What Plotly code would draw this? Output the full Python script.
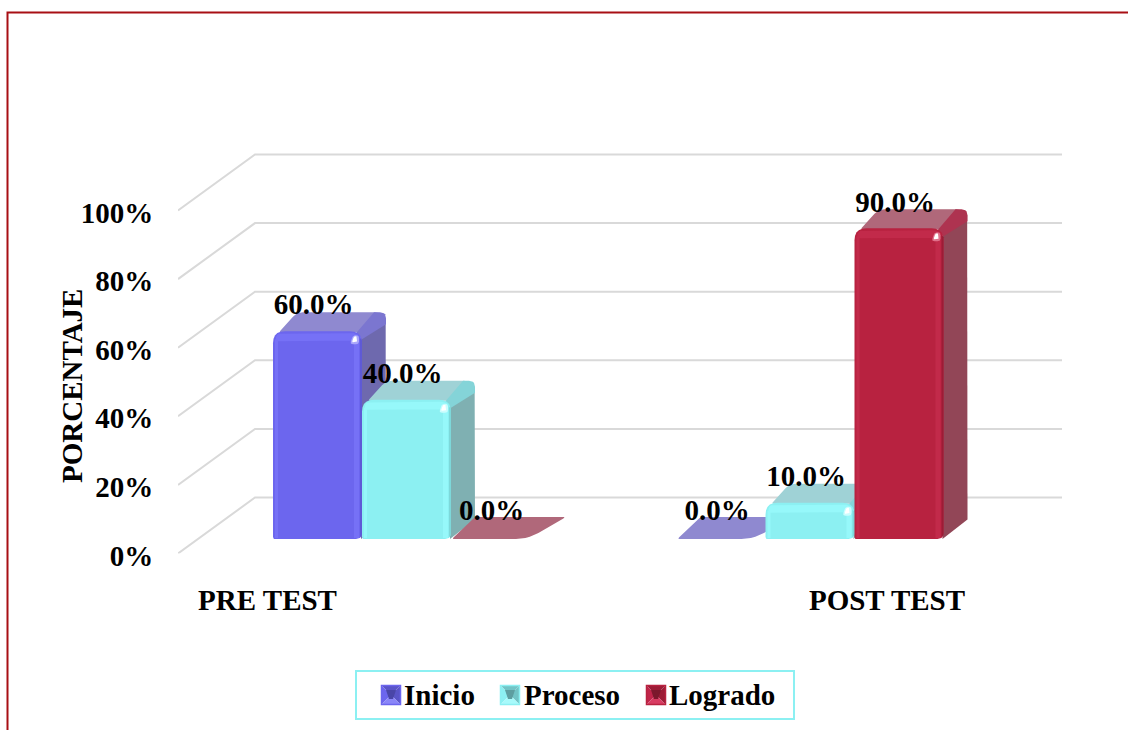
import plotly.graph_objects as go

categories = ["PRE TEST", "POST TEST"]
series_names = ["Inicio", "Proceso", "Logrado"]
inicio = [60.0, 0.0]
proceso = [40.0, 10.0]
logrado = [0.0, 90.0]
y_ticks = [0, 20, 40, 60, 80, 100]

W, H = 1128, 730
FONT = "Liberation Serif"
XU, YU = 403.5, 3.43          # px per category, px per percent
PL, PR, PB, PT = 178, 1062, 553.5, 145
BX, BY = 77, 56               # floor depth (px)
DX, DY = 24, 19               # bar depth (px)
BAR_W = 89
SHIFT = 26.75                 # px: bar cluster pushed back from the front plane
BASE = 14.5                   # px: bar foot above the front floor line
CAP = 2                       # px: extra height of the bevelled bar cap

styles = {
    "Inicio":  dict(front="#6C66EE", top="#8F89D0", side="#6E69AE", edge="#7B76D0",
                    light="#7671F6", dark="#5F5AD6", glow="#A9A6FA",
                    sw=["#5A55C8", "#6C66EE", "#5A55C8", "#8A86F8", "#4A46A8"]),
    "Proceso": dict(front="#8CF0F2", top="#9FD2D6", side="#7FB0B2", edge="#84D4D8",
                    light="#96F8FA", dark="#7DD8DA", glow="#CCFDFE",
                    sw=["#72C4C6", "#8CF0F2", "#72C4C6", "#A8FAFB", "#5E9EA0"]),
    "Logrado": dict(front="#B82240", top="#B0687A", side="#924657", edge="#AE3350",
                    light="#C22A4A", dark="#9C1C36", glow="#E0708A",
                    sw=["#9C1C36", "#C0254A", "#9C1C36", "#D83C62", "#7C182C"]),
}
legend_swatch_x = [381, 500, 646]
legend_text_x = [404, 524, 669]


def rounded(pts, radii, n=5):
    """Round a polygon's corners; points are in px-scaled units."""
    out = []
    m = len(pts)
    for i, (p, r) in enumerate(zip(pts, radii)):
        a, b = pts[i - 1], pts[(i + 1) % m]
        da = ((a[0] - p[0]) ** 2 + (a[1] - p[1]) ** 2) ** 0.5
        db = ((b[0] - p[0]) ** 2 + (b[1] - p[1]) ** 2) ** 0.5
        ra, rb = min(r, da / 2), min(r, db / 2)
        s = (p[0] + (a[0] - p[0]) * ra / da, p[1] + (a[1] - p[1]) * ra / da)
        e = (p[0] + (b[0] - p[0]) * rb / db, p[1] + (b[1] - p[1]) * rb / db)
        for k in range(n + 1):
            t = k / n
            out.append(((1 - t) ** 2 * s[0] + 2 * t * (1 - t) * p[0] + t * t * e[0],
                        (1 - t) ** 2 * s[1] + 2 * t * (1 - t) * p[1] + t * t * e[1]))
    return out


class Layer:
    def __init__(self):
        self.x, self.y = [], []

    def add(self, pts):
        self.x += [p[0] / XU for p in pts] + [pts[0][0] / XU, None]
        self.y += [p[1] / YU for p in pts] + [pts[0][1] / YU, None]


def poly_trace(layer, color):
    return go.Scatter(x=layer.x, y=layer.y, mode="lines", fill="toself", fillcolor=color,
                      line=dict(width=0, color=color), hoverinfo="skip", showlegend=False)


fig = go.Figure()

# Back wall and side wall gridlines
gx, gy = [], []
x_left, x_right = -0.5, 1.5 + BX / XU
for t in y_ticks:
    gx += [x_left, x_left + BX / XU, x_right, None]
    gy += [t, t + BY / YU, t + BY / YU, None]
fig.add_trace(go.Scatter(x=gx, y=gy, mode="lines", line=dict(color="#D9D9D9", width=2),
                         hoverinfo="skip", showlegend=False, cliponaxis=False))

label_x, label_y, label_text = [], [], []
for s, (name, values) in enumerate(zip(series_names, [inicio, proceso, logrado])):
    st = styles[name]
    layers = {k: Layer() for k in ["side", "top", "edge", "front", "dark", "light", "glow", "white"]}
    for c, v in enumerate(values):
        L = c * XU + SHIFT + (s - 1.5) * BAR_W
        R = L + BAR_W
        B = BASE
        T = BASE + v * YU
        label_x.append((L + R) / 2 / XU - 4 / XU)
        label_y.append((T + 26) / YU)
        label_text.append(f"{v:.1f}%")
        if v == 0:
            layers["top"].add(rounded([(L + 1, T), (R - 12, T), (R + DX + 2, T + 22), (L + DX, T + 22)],
                                      [2, 12, 3, 2]))
            continue
        T += CAP
        layers["side"].add(rounded([(R - 1, B), (R + DX, B + DY), (R + DX, T + DY), (R - 1, T)],
                                   [0, 1, 11, 0]))
        layers["top"].add(rounded([(L + 6, T - 1), (L + DX, T + DY), (R + DX, T + DY), (R, T - 1)],
                                  [2, 6, 11, 2]))
        layers["edge"].add(rounded([(R - 6, T - 2), (R + DX - 12, T + DY), (R + DX, T + DY), (R + DX, T + DY - 12), (R, T - 8)],
                                   [0, 0, 11, 0, 0]))
        layers["front"].add(rounded([(L, B), (R, B), (R, T), (L, T)], [2, 6, 12, 12]))
        layers["dark"].add([(R - 2, B + 2), (R, B + 4), (R, T - 9), (R - 2, T - 7)])
        layers["light"].add([(R - 8, B + 1), (R - 3, B + 1), (R - 3, T - 5), (R - 8, T - 8)])
        layers["light"].add([(L + 2, B + 1), (L + 5, B + 1), (L + 5, T - 8), (L + 2, T - 8)])
        layers["light"].add(rounded([(L + 3, T - 10), (R - 3, T - 10), (R - 3, T - 2), (L + 3, T - 2)], [1, 1, 8, 8]))
        layers["glow"].add(rounded([(R - 12, T - 13), (R - 3, T - 13), (R - 3, T - 4), (R - 9, T - 4)], [3, 3, 3, 3]))
        layers["white"].add(rounded([(R - 10, T - 11), (R - 5, T - 11), (R - 5, T - 5), (R - 8, T - 5)], [1, 1, 2, 2]))
    for key in ["side", "top", "edge", "front", "dark", "light", "glow"]:
        fig.add_trace(poly_trace(layers[key], st[key]))
    fig.add_trace(poly_trace(layers["white"], "#FFFFFF"))

# Data labels
fig.add_trace(go.Scatter(x=label_x, y=label_y, text=label_text, mode="text", cliponaxis=False,
                         textposition="middle center", hoverinfo="skip", showlegend=False,
                         textfont=dict(family=FONT, size=29, color="#000000", weight="bold")))


def px_x(v):
    return v / W


def px_y(v):
    return 1 - v / H


def tri(pts, color):
    path = "M " + " L ".join(f"{px_x(a):.5f} {px_y(b):.5f}" for a, b in pts) + " Z"
    return dict(type="path", path=path, xref="paper", yref="paper", fillcolor=color,
                line=dict(width=0), layer="above")


shapes = [
    dict(type="rect", xref="paper", yref="paper", x0=7.5 / W, x1=1.02, y0=-0.02, y1=1 - 12.5 / H,
         line=dict(color="#A80F14", width=2), layer="below"),
    dict(type="rect", xref="paper", yref="paper", x0=px_x(356), x1=px_x(794), y0=px_y(719), y1=px_y(671),
         line=dict(color="#8CF0F2", width=2), fillcolor="#FFFFFF", layer="above"),
]
annotations = [
    dict(text="PORCENTAJE", xref="paper", yref="paper", x=72 / W, y=1 - 386 / H,
         textangle=-90, showarrow=False, xanchor="center", yanchor="middle",
         font=dict(family=FONT, size=29, color="#000000", weight="bold")),
]
SW0, SW = 685, 20
for name, sx, tx in zip(series_names, legend_swatch_x, legend_text_x):
    c = styles[name]["sw"]
    mx, my = sx + SW / 2, SW0 + SW / 2
    a, b = sx + SW, SW0 + SW
    shapes.append(tri([(sx, SW0), (a, SW0), (mx, my)], c[0]))
    shapes.append(tri([(sx, SW0), (sx, b), (mx, my)], c[1]))
    shapes.append(tri([(a, SW0), (a, b), (mx, my)], c[2]))
    shapes.append(tri([(sx, b), (a, b), (mx, my)], c[3]))
    shapes.append(tri([(mx - 5, my - 5), (mx + 5, my - 5), (mx + 2, my + 4), (mx - 2, my + 4)], c[4]))
    shapes.append(dict(type="rect", xref="paper", yref="paper", x0=px_x(sx + 0.5), x1=px_x(a - 0.5),
                       y0=px_y(b - 0.5), y1=px_y(SW0 + 0.5),
                       line=dict(color=styles[name]["front"], width=1.5), layer="above"))
    annotations.append(dict(text=name, xref="paper", yref="paper", x=px_x(tx), y=px_y(695),
                            showarrow=False, xanchor="left", yanchor="middle", xshift=-2,
                            font=dict(family=FONT, size=29, color="#000000", weight="bold")))

fig.update_layout(
    width=W, height=H, autosize=False,
    margin=dict(l=0, r=0, t=0, b=0),
    showlegend=False,
    paper_bgcolor="#FFFFFF", plot_bgcolor="rgba(0,0,0,0)",
    font=dict(family=FONT, size=29, color="#000000", weight="bold"),
    xaxis=dict(domain=[PL / W, PR / W], range=[x_left, x_right], showgrid=False, zeroline=False,
               showline=False, automargin=False, tickmode="array",
               tickvals=[(267.5 - PL) / XU - 0.5, (887 - PL) / XU - 0.5], ticktext=categories,
               ticks="outside", ticklen=21, tickcolor="rgba(0,0,0,0)",
               tickfont=dict(family=FONT, size=29, color="#000000", weight="bold")),
    yaxis=dict(domain=[1 - PB / H, 1 - PT / H], range=[0, (PB - PT) / YU], showgrid=False, zeroline=False,
               showline=False, automargin=False, tickmode="array", tickvals=y_ticks,
               ticktext=[f"{t}%" for t in y_ticks], ticklabelshift=2,
               ticks="outside", ticklen=18, tickcolor="rgba(0,0,0,0)",
               tickfont=dict(family=FONT, size=29, color="#000000", weight="bold")),
    shapes=shapes,
    annotations=annotations,
)

fig.write_html("out.html", config=dict(displayModeBar=False),
               post_script="document.body.style.margin='0';")
